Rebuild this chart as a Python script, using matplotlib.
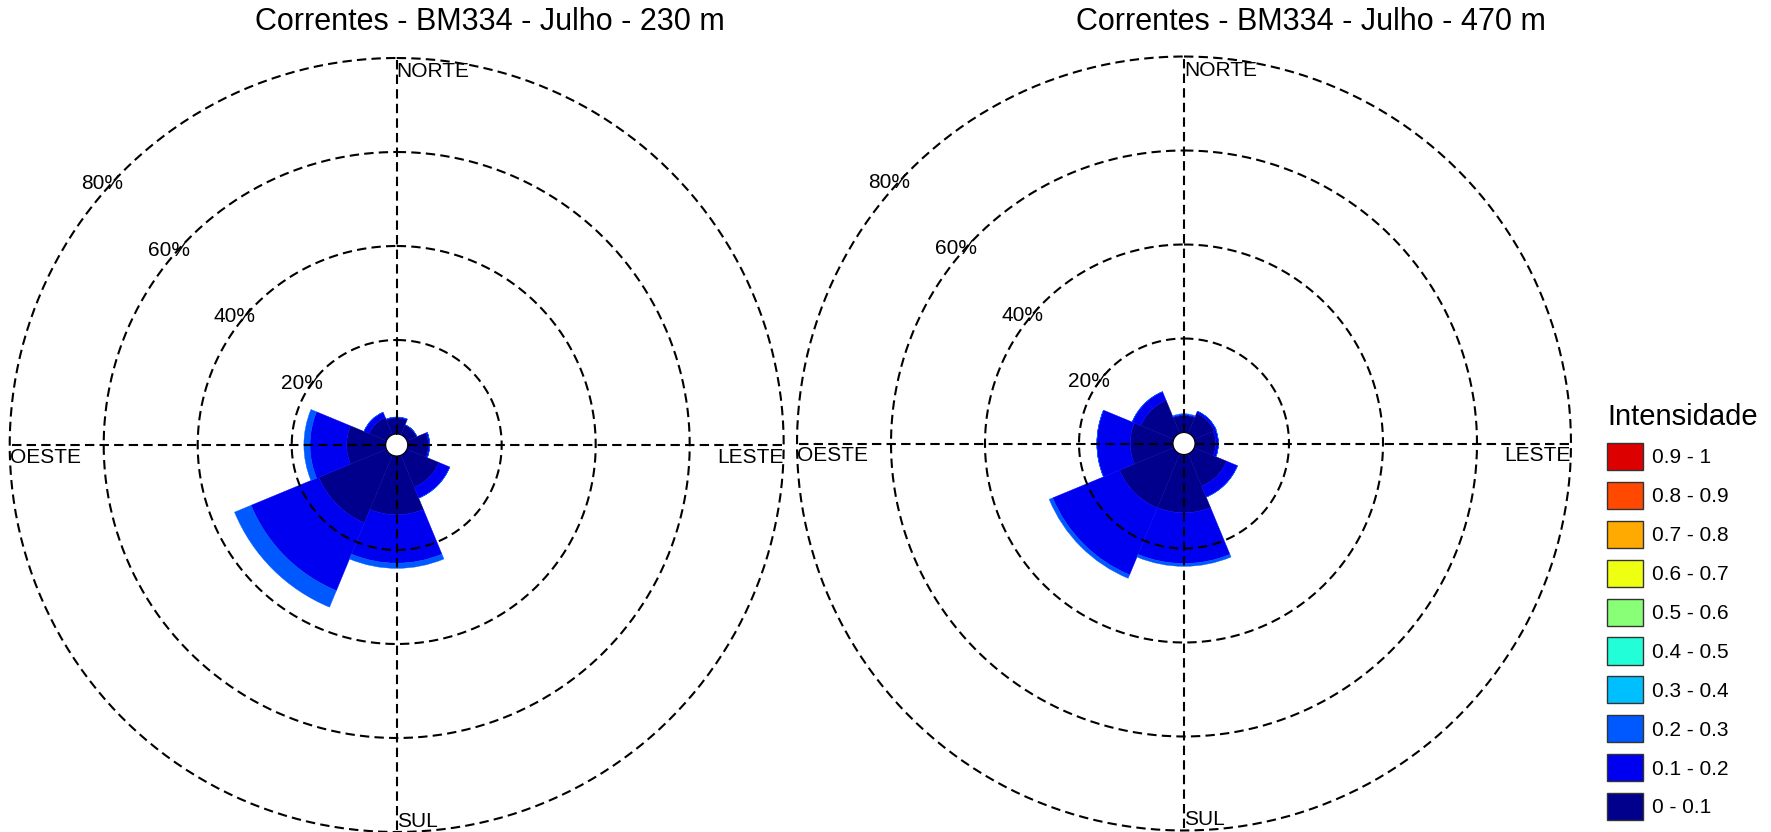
import numpy as np
import matplotlib
matplotlib.use('Agg')
from matplotlib import pyplot as plt
from matplotlib.patches import Patch

plt.rcParams['font.family'] = ['Liberation Sans', 'DejaVu Sans']

# direções (sentido horário a partir do norte)
direcoes = ['N', 'NE', 'E', 'SE', 'S', 'SW', 'W', 'NW']
angulos = [0, 45, 90, 135, 180, 225, 270, 315]

classes = ['0 - 0.1', '0.1 - 0.2', '0.2 - 0.3', '0.3 - 0.4', '0.4 - 0.5',
           '0.5 - 0.6', '0.6 - 0.7', '0.7 - 0.8', '0.8 - 0.9', '0.9 - 1']
cores = ['#00008c', '#0000f0', '#0058ff', '#00bfff', '#22ffd8',
         '#88ff77', '#eeff11', '#ffaa00', '#ff4800', '#dd0000']

# frequência (%) por classe de intensidade, 230 m
f230_c0 = [3.4, 2.3, 4.4, 7.4, 12.5, 15.6, 8.3, 4.0]
f230_c1 = [0.2, 0.0, 0.3, 2.5, 10.3, 15.6, 7.8, 1.2]
f230_c2 = [0.0, 0.0, 0.0, 0.0, 1.1, 3.8, 1.3, 0.0]

# frequência (%) por classe de intensidade, 470 m
f470_c0 = [3.6, 4.6, 4.4, 7.5, 12.4, 12.5, 9.1, 7.6]
f470_c1 = [0.2, 0.5, 0.6, 2.5, 10.8, 15.4, 7.1, 2.0]
f470_c2 = [0.2, 0.0, 0.0, 0.0, 0.6, 0.8, 0.0, 0.0]

titulos = ['Correntes - BM334 - Julho - 230 m', 'Correntes - BM334 - Julho - 470 m']
aneis = [20, 40, 60, 80]

W, H = 1771, 832
fig = plt.figure(figsize=(W / 100, H / 100), dpi=100)

R = 387
centros = [(396.7, 445), (1184, 443.5)]
titulo_x = [490, 1311]

tracejado = (0, (4.5, 2.5))


def rosa(ax, series):
    theta = np.deg2rad(angulos)
    largura = np.deg2rad(45)
    base = np.zeros(len(angulos))
    for i, s in enumerate(series):
        s = np.array(s)
        ax.bar(theta, s, width=largura, bottom=base, color=cores[i],
               edgecolor=cores[i], linewidth=0.3, zorder=2)
        base = base + s

    ax.set_theta_zero_location('N')
    ax.set_theta_direction(-1)
    ax.set_ylim(0, 80)
    ax.set_rorigin(-2.34)
    ax.grid(False)
    ax.set_xticks([])
    ax.set_yticks([])
    ax.spines['polar'].set_visible(False)
    ax.patch.set_alpha(0)

    t = np.linspace(0, 2 * np.pi, 400)
    for a in aneis:
        ax.plot(t, np.full_like(t, a), color='black', lw=1.5, ls=tracejado,
                zorder=3, clip_on=False)
    for ang in [0, np.pi / 2]:
        ax.plot([ang, ang], [0, 80], color='black', lw=1.5, ls=tracejado, zorder=3, clip_on=False)
        ax.plot([ang + np.pi, ang + np.pi], [0, 80], color='black', lw=1.5, ls=tracejado,
                zorder=3, clip_on=False)

    for a in aneis:
        ax.annotate('%d%%' % a, xy=(np.deg2rad(315), a), xytext=(0, -2),
                    textcoords='offset points', ha='right', va='top', fontsize=15,
                    annotation_clip=False)

    ax.annotate('NORTE', xy=(0, 80), xytext=(0, -3), textcoords='offset points',
                ha='left', va='top', fontsize=15, annotation_clip=False)
    ax.annotate('LESTE', xy=(np.pi / 2, 80), xytext=(0, -2), textcoords='offset points',
                ha='right', va='top', fontsize=15, annotation_clip=False)
    ax.annotate('SUL', xy=(np.pi, 80), xytext=(0, 1), textcoords='offset points',
                ha='left', va='bottom', fontsize=15, annotation_clip=False)
    ax.annotate('OESTE', xy=(3 * np.pi / 2, 80), xytext=(0, -2), textcoords='offset points',
                ha='left', va='top', fontsize=15, annotation_clip=False)


dados = [[f230_c0, f230_c1, f230_c2], [f470_c0, f470_c1, f470_c2]]
for k in range(2):
    cx, cy = centros[k]
    ax = fig.add_axes([(cx - R) / W, (H - cy - R) / H, 2 * R / W, 2 * R / H],
                      projection='polar')
    rosa(ax, dados[k])
    fig.text(titulo_x[k] / W, 1 - 22 / H, titulos[k], ha='center', va='center', fontsize=22)

handles = [Patch(facecolor=cores[i], edgecolor='#333333', linewidth=1) for i in range(10)][::-1]
leg = fig.legend(handles, classes[::-1], loc='upper left',
                 bbox_to_anchor=(1607 / W, 1 - 403 / H), frameon=False,
                 fontsize=15, title='Intensidade', title_fontsize=21,
                 handlelength=1.73, handleheight=1.62, handletextpad=0.42,
                 labelspacing=0.57, borderpad=0, borderaxespad=0, alignment='left')

fig.savefig('out.png', dpi=100)
